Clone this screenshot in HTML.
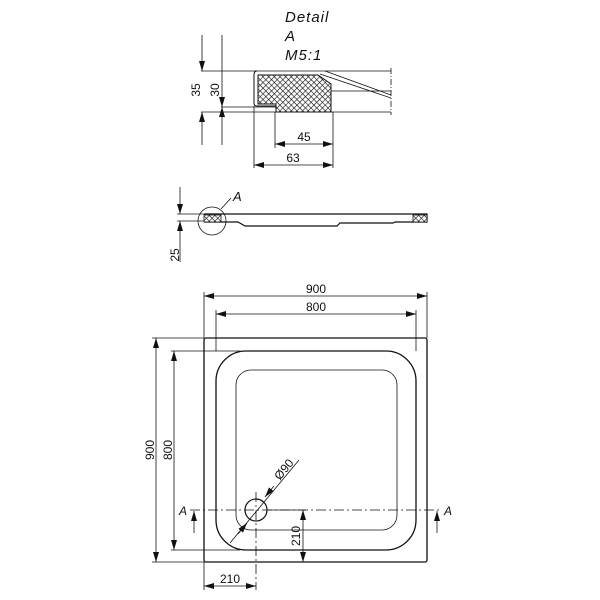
<!DOCTYPE html>
<html><head><style>
html,body{margin:0;padding:0;background:#fff;width:600px;height:600px;overflow:hidden}
svg text{font-family:"Liberation Sans",sans-serif;fill:#111}
</style></head><body>
<svg width="600" height="600" viewBox="0 0 600 600" xmlns="http://www.w3.org/2000/svg">
<defs>
<pattern id="h" width="4" height="4" patternUnits="userSpaceOnUse" patternTransform="rotate(45)">
<rect width="4" height="4" fill="#fff"/>
<path d="M0 0H4M0 0V4" stroke="#111" stroke-width="1.2"/>
</pattern>
<marker id="a" viewBox="0 0 10 6" refX="10" refY="3" markerWidth="10" markerHeight="6" orient="auto-start-reverse" markerUnits="userSpaceOnUse">
<path d="M0 0L10 3L0 6z" fill="#111"/>
</marker>
</defs>
<g stroke="#111" fill="none" stroke-width="0.8">
<text x="285" y="22" font-size="15" font-style="italic" stroke="none" letter-spacing="1">Detail</text>
<text x="285" y="41" font-size="15" font-style="italic" stroke="none">A</text>
<text x="285" y="60" font-size="15" font-style="italic" stroke="none" letter-spacing="1">M5:1</text>
<line x1="201" y1="71" x2="391" y2="71"/>
<line x1="201" y1="112" x2="391" y2="112"/>
<line x1="221" y1="107" x2="277" y2="107"/>
<line x1="202" y1="35" x2="202" y2="71" marker-end="url(#a)"/>
<line x1="202" y1="145" x2="202" y2="112" marker-end="url(#a)"/>
<line x1="222" y1="35" x2="222" y2="107" marker-end="url(#a)"/>
<line x1="222" y1="145" x2="222" y2="107" marker-end="url(#a)"/>
<text transform="translate(200,90) rotate(-90)" font-size="12" stroke="none" text-anchor="middle">35</text>
<text transform="translate(219,90) rotate(-90)" font-size="12" stroke="none" text-anchor="middle">30</text>
<path d="M325 71L391 95M320 74L391 98M331 91H391" />
<path d="M391 68V115" stroke-dasharray="6 2 1 2"/>
<path d="M257 71Q254 71 254 75V103Q254 106 257 106H276" stroke-width="1"/>
<path d="M258 75H318L331 84V112H276V104H258Z" fill="url(#h)" stroke-width="1"/>
<line x1="275" y1="112" x2="275" y2="148"/>
<line x1="333" y1="112" x2="333" y2="168"/>
<line x1="254" y1="106" x2="254" y2="168"/>
<line x1="275" y1="144" x2="333" y2="144" marker-start="url(#a)" marker-end="url(#a)"/>
<line x1="254" y1="165" x2="333" y2="165" marker-start="url(#a)" marker-end="url(#a)"/>
<text x="304" y="141" font-size="12" stroke="none" text-anchor="middle">45</text>
<text x="293" y="162" font-size="12" stroke="none" text-anchor="middle">63</text>
<line x1="177" y1="214" x2="205" y2="214"/>
<line x1="177" y1="221" x2="205" y2="221"/>
<path d="M205 214H427V222H395L393 223H340L337 226H245L238 222H205Z" stroke-width="1.2"/>
<rect x="204" y="215" width="17" height="7" fill="url(#h)"/>
<rect x="413" y="215" width="14" height="7" fill="url(#h)"/>
<circle cx="212" cy="221" r="14"/>
<line x1="221" y1="209" x2="231" y2="198"/>
<text x="233" y="201" font-size="13" font-style="italic" stroke="none">A</text>
<line x1="180" y1="187" x2="180" y2="214" marker-end="url(#a)"/>
<line x1="180" y1="262" x2="180" y2="221" marker-end="url(#a)"/>
<text transform="translate(179,255) rotate(-90)" font-size="12" stroke="none" text-anchor="middle">25</text>
<rect x="204" y="338" width="223" height="224" rx="2" stroke-width="1.3"/>
<rect x="216" y="351" width="200" height="199" rx="30" stroke-width="1.3"/>
<rect x="236" y="370" width="161" height="160" rx="15"/>
<line x1="204" y1="292" x2="204" y2="338"/>
<line x1="427" y1="292" x2="427" y2="338"/>
<line x1="216" y1="310" x2="216" y2="351"/>
<line x1="416" y1="310" x2="416" y2="351"/>
<line x1="204" y1="296" x2="427" y2="296" marker-start="url(#a)" marker-end="url(#a)"/>
<line x1="216" y1="314" x2="416" y2="314" marker-start="url(#a)" marker-end="url(#a)"/>
<text x="316" y="293" font-size="12" stroke="none" text-anchor="middle">900</text>
<text x="316" y="311" font-size="12" stroke="none" text-anchor="middle">800</text>
<line x1="152" y1="338" x2="204" y2="338"/>
<line x1="152" y1="562" x2="204" y2="562"/>
<line x1="171" y1="351" x2="240" y2="351"/>
<line x1="171" y1="550" x2="240" y2="550"/>
<line x1="156" y1="338" x2="156" y2="562" marker-start="url(#a)" marker-end="url(#a)"/>
<line x1="174" y1="351" x2="174" y2="550" marker-start="url(#a)" marker-end="url(#a)"/>
<text transform="translate(154,450) rotate(-90)" font-size="12" stroke="none" text-anchor="middle">900</text>
<text transform="translate(172,450) rotate(-90)" font-size="12" stroke="none" text-anchor="middle">800</text>
<line x1="190" y1="510" x2="440" y2="510" stroke-dasharray="10 3 2 3"/>
<text x="179" y="515" font-size="12" font-style="italic" stroke="none">A</text>
<text x="444" y="515" font-size="12" font-style="italic" stroke="none">A</text>
<line x1="194" y1="533" x2="194" y2="511" marker-end="url(#a)"/>
<line x1="437" y1="533" x2="437" y2="511" marker-end="url(#a)"/>
<circle cx="256" cy="510" r="11" stroke-width="1.2"/>
<line x1="256" y1="492" x2="256" y2="590" stroke-dasharray="10 3 2 3"/>
<line x1="230" y1="543" x2="299" y2="460"/>
<path d="M274 486L265 497" marker-end="url(#a)"/>
<path d="M238 534L247 523" marker-end="url(#a)"/>
<text transform="translate(287,472) rotate(-50)" font-size="12" stroke="none" text-anchor="middle">Ø90</text>
<line x1="268" y1="510" x2="306" y2="510"/>
<line x1="303" y1="510" x2="303" y2="562" marker-start="url(#a)" marker-end="url(#a)"/>
<text transform="translate(300,536) rotate(-90)" font-size="12" stroke="none" text-anchor="middle">210</text>
<line x1="204" y1="562" x2="204" y2="590"/>
<line x1="204" y1="586" x2="256" y2="586" marker-start="url(#a)" marker-end="url(#a)"/>
<text x="230" y="583" font-size="12" stroke="none" text-anchor="middle">210</text>
</g>
</svg>
</body></html>
